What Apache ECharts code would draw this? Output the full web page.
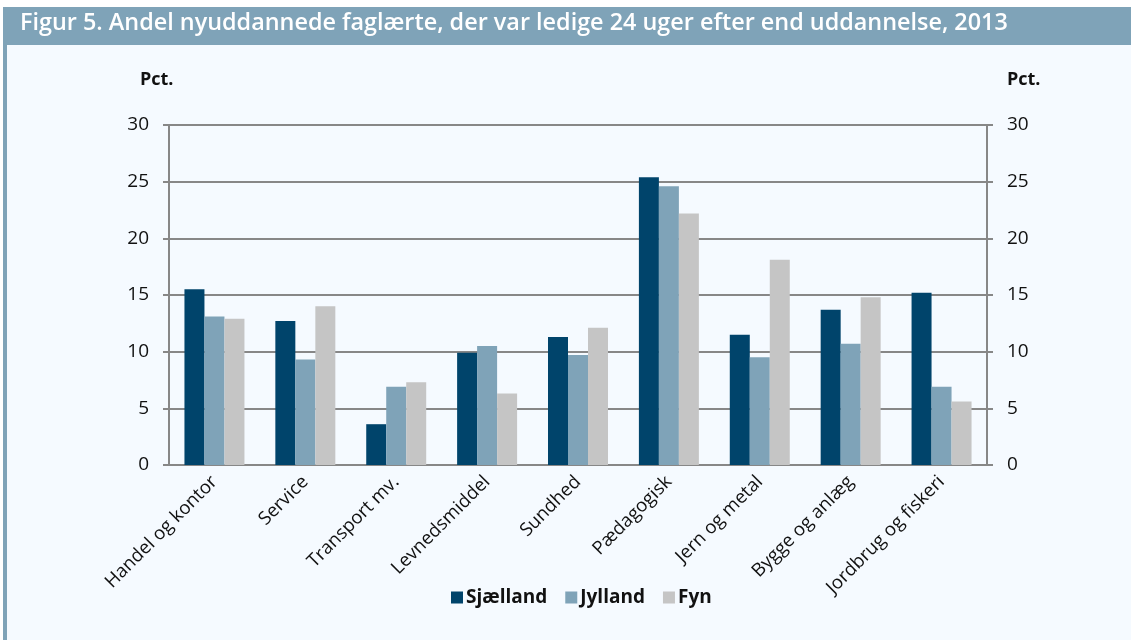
<!DOCTYPE html>
<html>
<head>
<meta charset="utf-8">
<script src="https://cdn.jsdelivr.net/npm/echarts@6/dist/echarts.min.js"></script>
<style>
  html, body { margin: 0; padding: 0; background: #ffffff; }
  #main { width: 1131px; height: 640px; }
</style>
</head>
<body>
<div id="main"></div>
<script>
var categories = ['Handel og kontor', 'Service', 'Transport mv.', 'Levnedsmiddel', 'Sundhed',
  'Pædagogisk', 'Jern og metal', 'Bygge og anlæg', 'Jordbrug og fiskeri'];
var sjaelland = [15.5, 12.7, 3.6, 9.9, 11.3, 25.4, 11.5, 13.7, 15.2];
var jylland = [13.1, 9.3, 6.9, 10.5, 9.7, 24.6, 9.5, 10.7, 6.9];
var fyn = [12.9, 14.0, 7.3, 6.3, 12.1, 22.2, 18.1, 14.8, 5.6];

var font = '"Open Sans", sans-serif';
var chartDom = document.getElementById('main');
var myChart = echarts.init(chartDom);

// y akse, bruges både venstre og højre
function yAxis(pos, grid) {
  return {
    type: 'value',
    position: pos,
    min: 0,
    max: 30,
    interval: 5,
    axisLine: { show: true, lineStyle: { color: '#878787', width: 2 } },
    axisTick: { show: true, length: 6, lineStyle: { color: '#878787', width: 2 } },
    axisLabel: { color: '#111', fontSize: 19, fontFamily: font, margin: 20 },
    splitLine: { show: grid, lineStyle: { color: '#878787', width: 2 } }
  };
}

var option = {
  backgroundColor: '#f5faff',
  animation: false,
  graphic: [
    { type: 'rect', left: 3, top: 7, shape: { width: 1128, height: 38 }, style: { fill: '#7fa3b8' } },
    { type: 'rect', left: 3, top: 45, shape: { width: 4, height: 595 }, style: { fill: '#7fa3b8' } },
    { type: 'rect', left: 0, top: 0, shape: { width: 1131, height: 7 }, style: { fill: '#ffffff' } },
    { type: 'rect', left: 0, top: 0, shape: { width: 3, height: 640 }, style: { fill: '#ffffff' } },
    {
      type: 'text', left: 20, top: 12,
      style: { text: 'Figur 5. Andel nyuddannede faglærte, der var ledige 24 uger efter end uddannelse, 2013',
        fill: '#fff', font: '600 23.4px "Open Sans", sans-serif' }
    },
    { type: 'text', left: 140, top: 71, style: { text: 'Pct.', fill: '#111', font: 'bold 18px "Open Sans", sans-serif' } },
    { type: 'text', left: 1007, top: 71, style: { text: 'Pct.', fill: '#111', font: 'bold 18px "Open Sans", sans-serif' } }
  ],
  legend: {
    bottom: 28,
    left: 446,
    itemWidth: 12,
    itemHeight: 12,
    itemGap: 18,
    icon: 'rect',
    textStyle: { color: '#111', fontSize: 19, fontWeight: 'bold', fontFamily: font, padding: [0, 0, 0, -2] },
    data: ['Sjælland', 'Jylland', 'Fyn']
  },
  grid: { left: 169, right: 144, top: 125, bottom: 175 },
  xAxis: {
    type: 'category',
    data: categories,
    axisLine: { lineStyle: { color: '#878787', width: 2 } },
    axisTick: { length: 6, lineStyle: { color: '#878787', width: 2 } },
    axisLabel: { rotate: 45, color: '#111', fontSize: 18.5, fontFamily: font, margin: 14, interval: 0 }
  },
  yAxis: [yAxis('left', true), yAxis('right', false)],
  series: [
    { name: 'Sjælland', type: 'bar', data: sjaelland, itemStyle: { color: '#00446b' }, barGap: '0%', barCategoryGap: '34%' },
    { name: 'Jylland', type: 'bar', data: jylland, itemStyle: { color: '#7fa3b8' } },
    { name: 'Fyn', type: 'bar', data: fyn, itemStyle: { color: '#c5c5c5' } }
  ]
};
myChart.setOption(option);
</script>
</body>
</html>
